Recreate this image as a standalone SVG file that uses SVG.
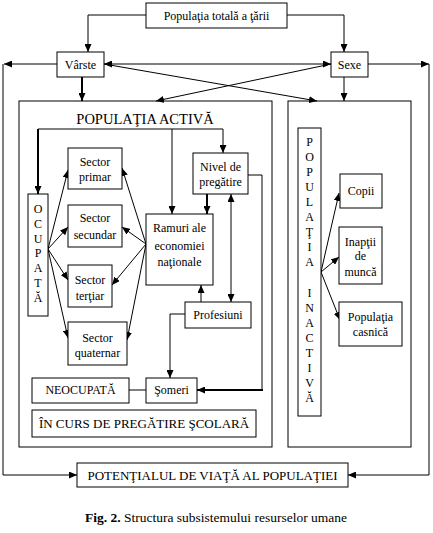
<svg xmlns="http://www.w3.org/2000/svg" width="433" height="533" viewBox="0 0 433 533">
<style>
rect{fill:#fff;stroke:#000;stroke-width:1}
text{font-family:"Liberation Serif","Times New Roman",serif;font-size:12px;fill:#000;text-anchor:middle}
.c{fill:none;stroke:#000;stroke-width:1}
.t{stroke-width:2}
.a{marker-end:url(#ah)}
.d{marker-start:url(#ah);marker-end:url(#ah)}
.big{font-size:14.5px}
.m{font-size:13px}
</style>
<defs>
<marker id="ah" viewBox="0 0 8 7" refX="8" refY="3.5" markerWidth="8" markerHeight="7" markerUnits="userSpaceOnUse" orient="auto-start-reverse">
<path d="M0,0 L8,3.5 L0,7 z" fill="#000"/>
</marker>
</defs>
<rect x="0" y="0" width="433" height="533" style="stroke:none"/>
<g id="activa-frame"><rect x="19" y="101" width="253" height="346"/><text class="big" x="145" y="124">POPULAŢIA ACTIVĂ</text></g>
<g id="inactiva-frame"><rect x="288" y="101" width="123" height="346"/></g>
<g id="connectors">
<path class="c a" d="M146,15 L88,15 L88,52"/>
<path class="c a" d="M287,15 L344,15 L344,52"/>
<path class="c a" d="M57,64 L4,64"/>
<path class="c a" d="M3,64 L3,475 L77,475"/>
<path class="c a" d="M368,64 L429,64"/>
<path class="c a" d="M429,64 L429,475 L348,475"/>
<path class="c d" d="M104,64 L331,64"/>
<path class="c a" d="M104,64 L317,101"/>
<path class="c a" d="M331,64 L156,101"/>
<path class="c t a" d="M82,77 L82,101"/>
<path class="c a" d="M344,77 L344,101"/>
<path class="c a" d="M38,129 L223,129 L223,153"/>
<path class="c t a" d="M38,129 L38,194"/>
<path class="c a" d="M172,129 L172,214"/>
<path class="c t a" d="M207,194 L207,214"/>
<path class="c" d="M248,175 L262,175 L262,390"/>
<path class="c t a" d="M263,390 L197,390"/>
<path class="c d" d="M231,194 L231,302"/>
<path class="c a" d="M201,302 L201,285"/>
<path class="c a" d="M185,314 L170,314 L170,378"/>
<path class="c" d="M129,390 L146,390"/>
<path class="c a" d="M48,249 L68,170"/>
<path class="c a" d="M48,249 L68,227"/>
<path class="c a" d="M48,249 L68,280"/>
<path class="c a" d="M48,249 L68,338"/>
<path class="c a" d="M146,244 L122,168"/>
<path class="c a" d="M146,244 L122,227"/>
<path class="c a" d="M146,244 L112,285"/>
<path class="c a" d="M146,244 L127,340"/>
<path class="c a" d="M321,272 L339,193"/>
<path class="c a" d="M321,272 L339,257"/>
<path class="c a" d="M321,272 L340,320"/>
</g>
<g id="populatia-totala"><rect x="146" y="3" width="141" height="25"/><text x="216.5" y="20">Populaţia totală a ţării</text></g>
<g id="varste"><rect x="57" y="52" width="47" height="25"/><text x="80.5" y="69">Vârste</text></g>
<g id="sexe"><rect x="331" y="52" width="37" height="25"/><text x="349.5" y="69">Sexe</text></g>
<g id="ocupata"><rect x="28" y="194" width="20" height="122"/>
<text x="38" y="213">O</text><text x="38" y="228">C</text><text x="38" y="243">U</text><text x="38" y="257">P</text><text x="38" y="272">A</text><text x="38" y="287">T</text><text x="38" y="302">Ă</text></g>
<g id="sector-primar"><rect x="68" y="148" width="54" height="41"/><text x="95" y="166">Sector</text><text x="95" y="181">primar</text></g>
<g id="sector-secundar"><rect x="68" y="205" width="54" height="42"/><text x="95" y="222">Sector</text><text x="95" y="239">secundar</text></g>
<g id="sector-tertiar"><rect x="68" y="265" width="44" height="42"/><text x="90" y="284">Sector</text><text x="90" y="300">terţiar</text></g>
<g id="sector-quaternar"><rect x="68" y="322" width="59" height="43"/><text x="97.5" y="342">Sector</text><text x="97.5" y="357">quaternar</text></g>
<g id="ramuri"><rect x="146" y="214" width="67" height="71"/><text x="179.5" y="232">Ramuri ale</text><text x="179.5" y="250">economiei</text><text x="179.5" y="266">naţionale</text></g>
<g id="nivel"><rect x="193" y="153" width="55" height="41"/><text x="220.5" y="171">Nivel de</text><text x="220.5" y="186">pregătire</text></g>
<g id="profesiuni"><rect x="185" y="302" width="66" height="26"/><text x="218" y="319">Profesiuni</text></g>
<g id="someri"><rect x="146" y="378" width="51" height="25"/><text x="171.5" y="394">Şomeri</text></g>
<g id="neocupata"><rect x="32" y="378" width="97" height="25"/><text x="80.5" y="394">NEOCUPATĂ</text></g>
<g id="in-curs"><rect x="32" y="410" width="224" height="27"/><text class="m" x="144" y="428">ÎN CURS DE PREGĂTIRE ŞCOLARĂ</text></g>
<g id="inactiva"><rect x="298" y="128" width="23" height="288"/>
<text x="309.5" y="146">P</text><text x="309.5" y="161">O</text><text x="309.5" y="176">P</text><text x="309.5" y="191">U</text><text x="309.5" y="206">L</text><text x="309.5" y="221">A</text><text x="309.5" y="236">Ţ</text><text x="309.5" y="251">I</text><text x="309.5" y="266">A</text>
<text x="309.5" y="297">I</text><text x="309.5" y="312">N</text><text x="309.5" y="327">A</text><text x="309.5" y="342">C</text><text x="309.5" y="357">T</text><text x="309.5" y="372">I</text><text x="309.5" y="387">V</text><text x="309.5" y="402">Ă</text></g>
<g id="copii"><rect x="340" y="174" width="42" height="34"/><text x="361" y="195">Copii</text></g>
<g id="inaptii"><rect x="339" y="227" width="43" height="57"/><text x="360.5" y="246">Inapţii</text><text x="360.5" y="260">de</text><text x="360.5" y="276">muncă</text></g>
<g id="casnica"><rect x="339" y="302" width="63" height="44"/><text x="370.5" y="321">Populaţia</text><text x="370.5" y="336">casnică</text></g>
<g id="potential"><rect x="77" y="463" width="271" height="24"/><text class="m" x="212.5" y="480">POTENŢIALUL DE VIAŢĂ AL POPULAŢIEI</text></g>
<text x="216" y="522" style="font-size:13.5px"><tspan font-weight="bold">Fig. 2.</tspan> Structura subsistemului resurselor umane</text>
</svg>
